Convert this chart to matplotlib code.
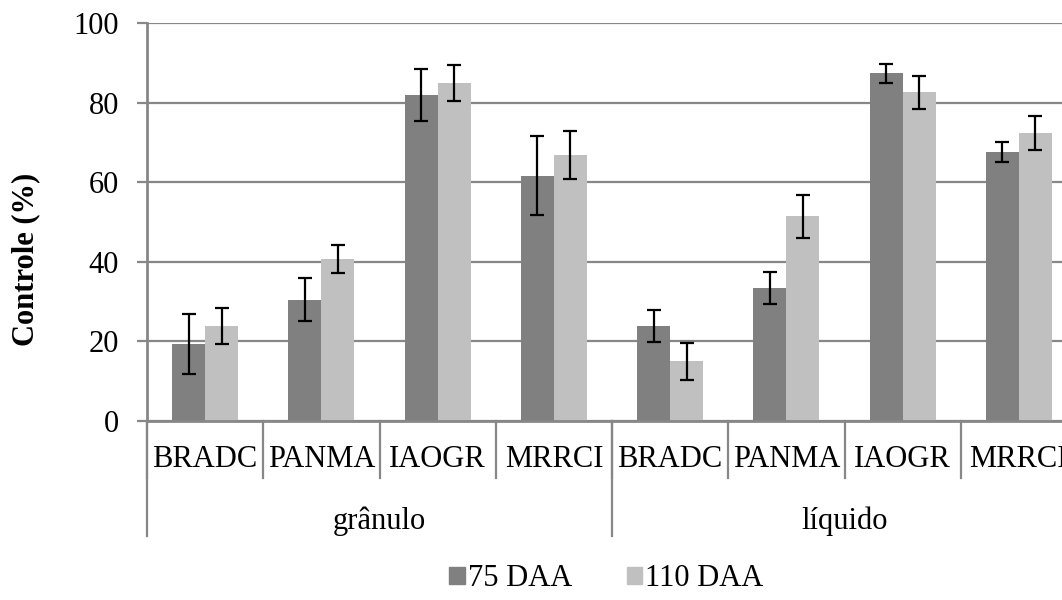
import numpy as np
import matplotlib.pyplot as plt
from matplotlib.patches import Patch
import matplotlib.transforms as mtransforms

plt.rcParams['font.family'] = ['Liberation Serif', 'DejaVu Serif']

# Data
groups = ["grânulo", "líquido"]
species = ["BRADC", "PANMA", "IAOGR", "MRRCI"]
series = ["75 DAA", "110 DAA"]

daa75 = [19.3, 30.5, 82.0, 61.6, 23.9, 33.4, 87.4, 67.6]
daa75_err = [7.5, 5.4, 6.5, 9.9, 4.0, 4.0, 2.4, 2.4]
daa110 = [23.9, 40.7, 84.9, 66.9, 15.0, 51.5, 82.6, 72.4]
daa110_err = [4.5, 3.6, 4.5, 6.0, 4.7, 5.4, 4.2, 4.2]

dark = "#808080"
light = "#c0c0c0"
grey = "#878787"
fs = 22

fig = plt.figure(figsize=(10.62, 6.0), dpi=100)
ax = fig.add_axes([147 / 1062, 179 / 600, 930 / 1062, 398 / 600])

x = np.arange(len(species) * len(groups))
w = 0.284
ax.bar(x - w / 2, daa75, w, color=dark, zorder=2)
ax.bar(x + w / 2, daa110, w, color=light, zorder=2)
ax.errorbar(x - w / 2, daa75, yerr=daa75_err, fmt="none", ecolor="black",
            elinewidth=1.6, capsize=5, capthick=1.6, zorder=3)
ax.errorbar(x + w / 2, daa110, yerr=daa110_err, fmt="none", ecolor="black",
            elinewidth=1.6, capsize=5, capthick=1.6, zorder=3)

ax.set_xlim(-0.5, len(x) - 0.5)
ax.set_ylim(0, 100)
ax.set_yticks(range(0, 101, 20))
ax.yaxis.grid(True, color=grey, linewidth=1.6, zorder=0)
ax.set_axisbelow(True)

for side in ["top", "right"]:
    ax.spines[side].set_visible(False)
for side in ["left", "bottom"]:
    ax.spines[side].set_color(grey)
    ax.spines[side].set_linewidth(2.0)

ax.tick_params(axis="y", direction="out", length=7, width=1.6, color=grey,
               labelsize=fs, pad=13)
ax.set_xticks([])
ax.set_ylabel("Controle (%)", fontsize=fs, fontweight="bold")
ax.yaxis.set_label_coords(-0.115, 0.405)

# category labels and separators under the axis
trans = mtransforms.blended_transform_factory(ax.transData, ax.transAxes)
labels = species * len(groups)
for i, lab in enumerate(labels):
    ax.text(i, -0.097, lab, transform=trans, ha="center", va="center",
            fontsize=fs)
for b in np.arange(-0.5, len(x), 1.0):
    ax.plot([b, b], [0, -0.142], transform=trans, color=grey, lw=1.6,
            clip_on=False)
for gi, g in enumerate(groups):
    b = gi * len(species) - 0.5
    ax.plot([b, b], [0, -0.29], transform=trans, color=grey, lw=1.6,
            clip_on=False)
    ax.text(gi * len(species) + 1.5, -0.252, g, transform=trans,
            ha="center", va="center", fontsize=fs)
ax.plot([len(x) - 0.5] * 2, [0, -0.29], transform=trans, color=grey, lw=1.6,
        clip_on=False)

handles = [Patch(color=dark, label=series[0]),
           Patch(color=light, label=series[1])]
fig.legend(handles=handles, loc="center", bbox_to_anchor=(0.571, 0.035),
           ncol=2, frameon=False, fontsize=fs, handlelength=0.5,
           handleheight=0.5, handletextpad=0.1, columnspacing=1.8)

fig.savefig("out.png", dpi=100)
